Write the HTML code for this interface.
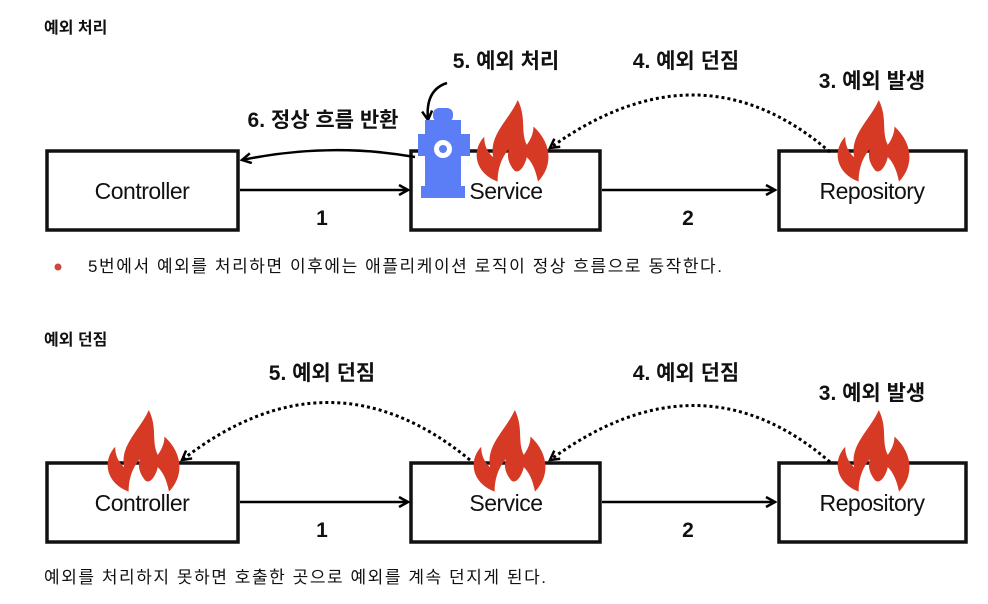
<!DOCTYPE html>
<html><head><meta charset="utf-8"><style>
body{margin:0;background:#fff;width:988px;height:604px;overflow:hidden;font-family:"Liberation Sans","Noto Sans CJK KR",sans-serif;}
svg{position:absolute;left:0;top:0}
</style></head><body>
<svg width="988" height="604" viewBox="0 0 988 604" xmlns="http://www.w3.org/2000/svg" font-family="Liberation Sans, Noto Sans CJK KR, sans-serif">
<defs>
<path id="fl" d="M22,80 C2,72 -2,50 10,36 C10,46 14,52 18,56 C14,34 32,20 40,0 C48,18 42,30 48,44 C52,38 54,32 54,26 C70,42 72,64 58,80 C56,68 52,60 48,56 C46,66 40,74 36,68 C32,62 30,56 32,48 C26,56 22,66 22,80 Z" fill="#d63a24"/>
<marker id="ah" markerWidth="12" markerHeight="12" refX="10" refY="6" orient="auto" markerUnits="userSpaceOnUse"><path d="M1,1 L10,6 L1,11" fill="none" stroke="#000" stroke-width="2.5"/></marker>
</defs>
<g fill="none" stroke="#111" stroke-width="3.5">
<rect x="47" y="151" width="191" height="79"/>
<rect x="411" y="151" width="189" height="79"/>
<rect x="779" y="151" width="187" height="79"/>
<rect x="47" y="463" width="191" height="79"/>
<rect x="411" y="463" width="189" height="79"/>
<rect x="779" y="463" width="187" height="79"/>
</g>
<g stroke="#000" stroke-width="2.5" fill="none" marker-end="url(#ah)">
<line x1="240" y1="190" x2="408" y2="190"/>
<line x1="602" y1="190" x2="775" y2="190"/>
<line x1="240" y1="502" x2="408" y2="502"/>
<line x1="602" y1="502" x2="775" y2="502"/>
<path d="M415,157 Q330,142 242,160"/>
<path d="M447,83 Q425,90 428,120"/>
</g>
<g stroke="#000" stroke-width="3" stroke-dasharray="3,3" fill="none" marker-end="url(#ah)">
<path d="M830,152 Q700,40 550,148"/>
<path d="M830,462 Q700,350 550,460"/>
<path d="M470,460 Q330,345 182,460"/>
</g>
<g transform="translate(473,100) scale(1.12,1.02)"><use href="#fl"/></g>
<g transform="translate(834,100) scale(1.12,1.02)"><use href="#fl"/></g>
<g transform="translate(104,410) scale(1.12,1.02)"><use href="#fl"/></g>
<g transform="translate(470,410) scale(1.12,1.02)"><use href="#fl"/></g>
<g transform="translate(834,410) scale(1.12,1.02)"><use href="#fl"/></g>
<g fill="#5b7df6">
<rect x="433" y="108" width="20" height="14" rx="6"/>
<rect x="425" y="120" width="36" height="16"/>
<rect x="418" y="134" width="52" height="22"/>
<rect x="425" y="150" width="36" height="40"/>
<rect x="421" y="186" width="44" height="12"/>
</g>
<circle cx="443" cy="149" r="9" fill="#fff"/><circle cx="443" cy="149" r="4" fill="#5b7df6"/>
<g font-size="23" fill="#111" text-anchor="middle" letter-spacing="-0.5">
<text x="142" y="199">Controller</text>
<text x="506" y="199">Service</text>
<text x="872" y="199">Repository</text>
<text x="142" y="511">Controller</text>
<text x="506" y="511">Service</text>
<text x="872" y="511">Repository</text>
</g>
<g font-size="21" font-weight="bold" fill="#111" text-anchor="middle">
<text x="322" y="225">1</text><text x="688" y="225">2</text>
<text x="322" y="537">1</text><text x="688" y="537">2</text>
<text x="506" y="68">5. 예외 처리</text>
<text x="686" y="68">4. 예외 던짐</text>
<text x="872" y="88">3. 예외 발생</text>
<text x="323" y="127">6. 정상 흐름 반환</text>
<text x="322" y="380">5. 예외 던짐</text>
<text x="686" y="380">4. 예외 던짐</text>
<text x="872" y="400">3. 예외 발생</text>
</g>
<g font-size="16" fill="#111">
<text x="44" y="33" font-weight="bold">예외 처리</text>
<text x="44" y="345" font-weight="bold">예외 던짐</text>
<circle cx="58" cy="267" r="3.5" fill="#c9483d"/>
<text x="88" y="272" font-size="17" textLength="634" lengthAdjust="spacing">5번에서 예외를 처리하면 이후에는 애플리케이션 로직이 정상 흐름으로 동작한다.</text>
<text x="44" y="583" font-size="17" textLength="502" lengthAdjust="spacing">예외를 처리하지 못하면 호출한 곳으로 예외를 계속 던지게 된다.</text>
</g>
</svg>
</body></html>
